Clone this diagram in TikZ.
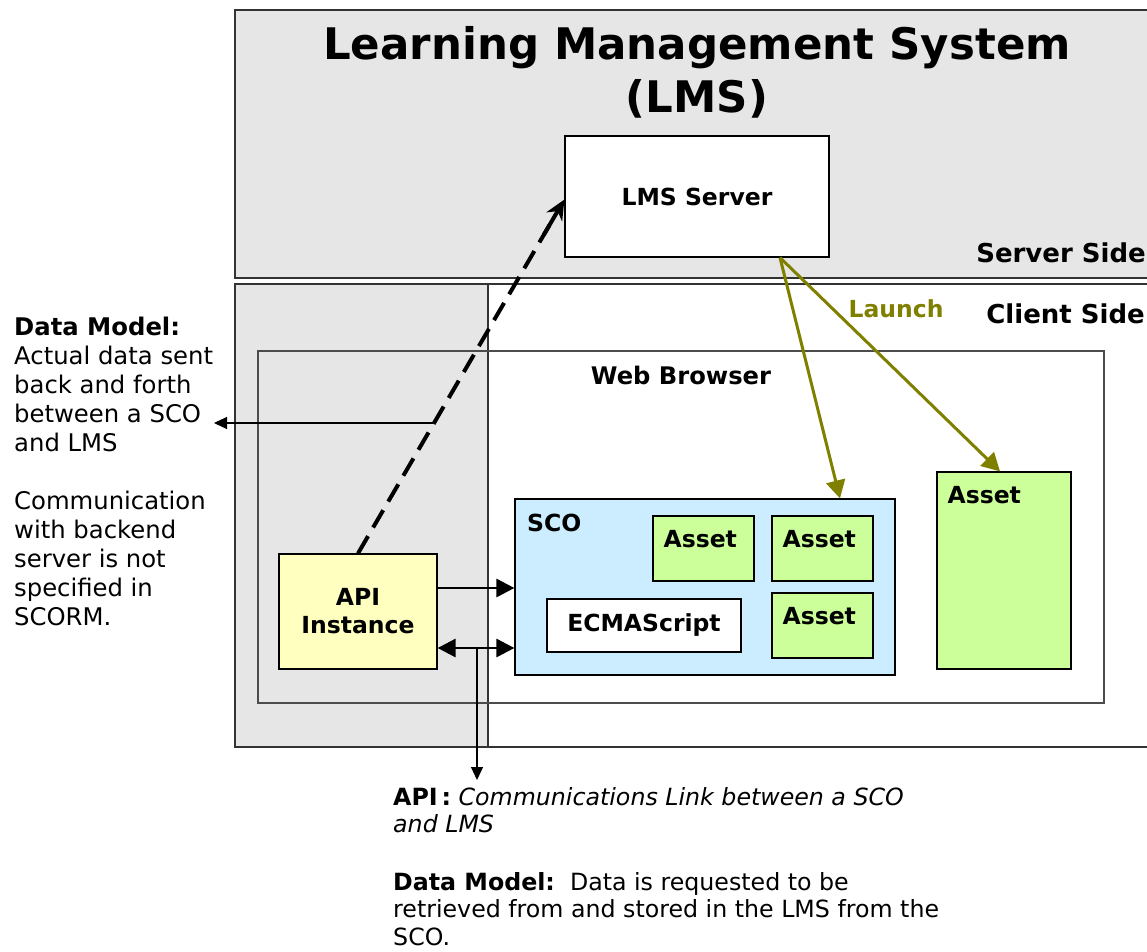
\documentclass[tikz,border=0pt]{standalone}
\usepackage{fontspec}
\setmainfont{DejaVu Sans}
\usetikzlibrary{arrows.meta,calc}
\definecolor{panelgray}{HTML}{E6E6E6}
\definecolor{apiyellow}{HTML}{FFFFC0}
\definecolor{scoblue}{HTML}{CCECFF}
\definecolor{assetgreen}{HTML}{CCFF99}
\definecolor{launcholive}{HTML}{808000}
\tikzset{
  boxnode/.style={draw=black, line width=1.2pt, rectangle, inner sep=0pt},
  lbl/.style={font=\fontsize{23.5}{28}\selectfont\bfseries, inner sep=0pt},
  sidelbl/.style={font=\fontsize{26}{30}\selectfont\bfseries, inner sep=0pt},
  bodytext/.style={font=\fontsize{24.3}{29}\selectfont, align=left, inner sep=0pt},
  notetext/.style={font=\fontsize{23.7}{27.5}\selectfont, align=left, inner sep=0pt},
  assetbox/.style={boxnode, fill=assetgreen, minimum width=101pt, minimum height=65pt},
  dashline/.style={line width=4pt, dash pattern=on 20pt off 10pt},
  dashtip/.style={line width=4pt, -{Stealth[length=20pt,width=18pt]}},
  olivearrow/.style={draw=launcholive, line width=3pt, -{Triangle[length=18pt,width=19pt]}},
  thickarrow/.style={line width=2.8pt, -{Triangle[length=18pt,width=18pt]}},
  thickdouble/.style={line width=2.8pt, {Triangle[length=18pt,width=18pt]}-{Triangle[length=18pt,width=18pt]}},
  thinarrow/.style={line width=1.1pt, -{Triangle[length=13pt,width=12pt]}}
}
\begin{document}
\begin{tikzpicture}[x={(1pt,0pt)}, y={(0pt,-1pt)}]
\useasboundingbox (0,0) rectangle (1147,951);
\clip (0,0) rectangle (1147,951);
\fill[white] (0,0) rectangle (1147,951);
% server side panel
\draw[draw=black!80, fill=panelgray, line width=1.2pt] (235,10) rectangle (1155,278);
% client side panel
\fill[panelgray] (235,284) rectangle (488,747);
\draw[draw=black!80, line width=1.2pt] (235,284) rectangle (1155,747);
\draw[draw=black!80, line width=1.2pt] (488,284) -- (488,747);
% title
\node[font=\fontsize{43.5}{53}\selectfont\bfseries, align=center, inner sep=0pt] (title) at (697,72) {Learning Management System\\(LMS)};
\node[sidelbl, anchor=base east] (serverside) at (1146,262) {Server Side};
\node[sidelbl, anchor=base east] (clientside) at (1145,323) {Client Side};
% web browser
\node[draw=black!70, line width=1.2pt, minimum width=846pt, minimum height=352pt, inner sep=0pt] (wb) at (681,527) {};
\node[lbl, font=\fontsize{24.2}{28}\selectfont\bfseries] (wblabel) at (681,375) {Web Browser};
% LMS server
\node[boxnode, fill=white, minimum width=264pt, minimum height=121pt, lbl] (lms) at (697,196.5) {LMS Server};
% API instance
\node[boxnode, fill=apiyellow, minimum width=158pt, minimum height=115pt, lbl, align=center] (api) at (358,611.5) {API\\Instance};
% SCO
\node[boxnode, fill=scoblue, minimum width=380pt, minimum height=176pt] (sco) at (705,587) {};
\node[lbl, anchor=west] (scolabel) at (527,523) {SCO};
\node[boxnode, fill=white, minimum width=194pt, minimum height=53pt, lbl] (ecma) at (644,625.5) {ECMAScript};
\node[assetbox] (a1) at (703.5,548.5) {};
\node[assetbox] (a2) at (822.5,548.5) {};
\node[assetbox] (a3) at (822.5,625.5) {};
\node[boxnode, fill=assetgreen, minimum width=134pt, minimum height=197pt] (a4) at (1004,570.5) {};
\node[lbl, anchor=west] (a1l) at ($(a1.north west)+(11,24)$) {Asset};
\node[lbl, anchor=west] (a2l) at ($(a2.north west)+(11,24)$) {Asset};
\node[lbl, anchor=west] (a3l) at ($(a3.north west)+(11,24)$) {Asset};
\node[lbl, anchor=west] (a4l) at ($(a4.north west)+(11,24)$) {Asset};
% launch arrows
\coordinate (launchsrc) at ($(lms.south)+(83,0)$);
\draw[olivearrow] (launchsrc) -- ($(sco.north)+(135,0)$);
\draw[olivearrow] (launchsrc) -- ($(a4.north)+(-4,0)$);
\node[lbl, text=launcholive] (launch) at (896,309) {Launch};
% dashed API to server
\coordinate (lmsin) at ($(lms.west)+(0,3)$);
\draw[dashline] (api.north) -- ($(api.north)!0.93!(lmsin)$);
\draw[dashtip] ($(api.north)!0.9!(lmsin)$) -- (lmsin);
% API to SCO
\coordinate (rowa) at (0,588);
\coordinate (rowb) at (0,648);
\draw[thickarrow] (api.east |- rowa) -- (sco.west |- rowa);
\draw[thickdouble] (api.east |- rowb) -- (sco.west |- rowb);
\coordinate (apitap) at (477,648);
\coordinate (apinotept) at (477,780);
\draw[thinarrow] (apitap) -- (apinotept);
% data model note arrow
\coordinate (dmsrc) at (433,423);
\coordinate (dmnotept) at (214,423);
\draw[thinarrow] (dmsrc) -- (dmnotept);
% texts
\node[bodytext, anchor=north west] (leftnote) at (14,317) {\textbf{Data Model:}\\Actual data sent\\back and forth\\between a SCO\\and LMS\\[29pt]Communication\\with backend\\server is not\\specified in\\SCORM.};
\node[notetext, anchor=north west] (apinote) at (393,787) {\textbf{API\,:} \textit{Communications Link between a SCO}\\\textit{and LMS}};
\node[notetext, anchor=north west] (dmnote) at (393,872) {\textbf{Data Model:}\ \ Data is requested to be\\retrieved from and stored in the LMS from the\\SCO.};
\end{tikzpicture}
\end{document}
